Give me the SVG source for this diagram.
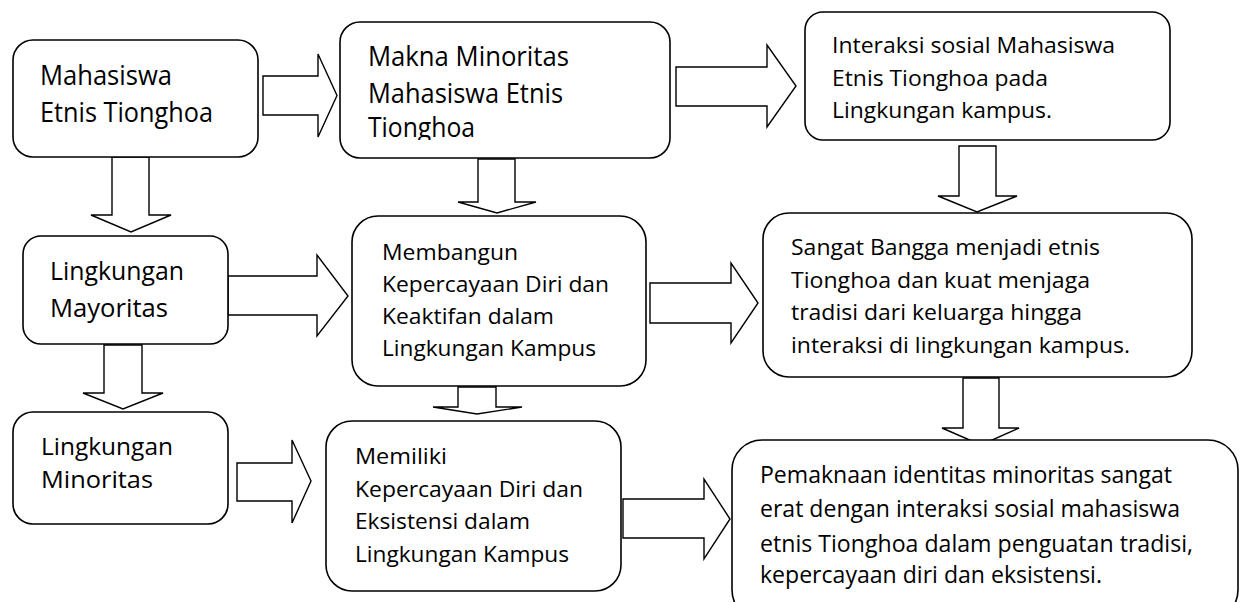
<svg xmlns="http://www.w3.org/2000/svg" width="1241" height="602" viewBox="0 0 1241 602">
<style>
.box{fill:#fff;stroke:#000;stroke-width:1.6}
.arr{fill:#fff;stroke:#000;stroke-width:1.4;stroke-linejoin:miter}
text{font-family:"Open Sans","Noto Sans","Liberation Sans",sans-serif;fill:#000}
.f25{font-size:27px}.f24{font-size:26px}.f23{font-size:24px}.f21{font-size:22.5px}.f22{font-size:24px}
</style>
<defs>
<clipPath id="clip2"><rect x="340" y="22" width="330" height="118"/></clipPath>
</defs>
<rect width="1241" height="602" fill="#fff"/>
<g id="connectors">
<polygon class="arr" points="263,76 318,76 318,54 337,95.5 318,137 318,115 263,115"/>
<polygon class="arr" points="676,67 767,67 767,45 796,86 767,127 767,106 676,106"/>
<polygon class="arr" points="112,157 149,157 149,215 171,215 131,232 91,215 112,215"/>
<polygon class="arr" points="478,159 515,159 515,202 536,202 497,213 458,202 478,202"/>
<polygon class="arr" points="959,146 996,146 996,196 1017,196 977,212 938,196 959,196"/>
<polygon class="arr" points="228,276 317,276 317,255 348,296 317,336 317,315 228,315"/>
<polygon class="arr" points="650,283 731,283 731,263 758,303 731,343 731,323 650,323"/>
<polygon class="arr" points="104,345 142,345 142,393 163,393 123,409 83,393 104,393"/>
<polygon class="arr" points="458,387 496,387 496,407 522,407 477,414 433,407 458,407"/>
<polygon class="arr" points="963,378 999,378 999,428 1019,428 981,445 942,428 963,428"/>
<polygon class="arr" points="237,463 292,463 292,440 311,481 292,523 292,501 237,501"/>
<polygon class="arr" points="623,499 704,499 704,479 730,519 704,559 704,538 623,538"/>
</g>
<g id="n1">
<rect class="box" x="13" y="40" width="245" height="117" rx="20"/>
<text class="f25" x="40" y="85" textLength="132" lengthAdjust="spacingAndGlyphs">Mahasiswa</text>
<text class="f25" x="40" y="122" textLength="173" lengthAdjust="spacingAndGlyphs">Etnis Tionghoa</text>
</g>
<g id="n2">
<rect class="box" x="340" y="22" width="330" height="136" rx="20"/>
<g clip-path="url(#clip2)">
<text class="f25" x="368" y="66" textLength="201" lengthAdjust="spacingAndGlyphs">Makna Minoritas</text>
<text class="f25" x="368" y="103" textLength="195" lengthAdjust="spacingAndGlyphs">Mahasiswa Etnis</text>
<text class="f25" x="368" y="137" textLength="107" lengthAdjust="spacingAndGlyphs">Tionghoa</text>
</g>
</g>
<g id="n3">
<rect class="box" x="805" y="12" width="365" height="128" rx="18"/>
<text class="f21" x="832" y="53" textLength="283" lengthAdjust="spacingAndGlyphs">Interaksi sosial Mahasiswa</text>
<text class="f21" x="832" y="86" textLength="216" lengthAdjust="spacingAndGlyphs">Etnis Tionghoa pada</text>
<text class="f21" x="832" y="118" textLength="220" lengthAdjust="spacingAndGlyphs">Lingkungan kampus.</text>
</g>
<g id="n4">
<rect class="box" x="23" y="236" width="205" height="108" rx="18"/>
<text class="f24" x="50" y="280" textLength="134" lengthAdjust="spacingAndGlyphs">Lingkungan</text>
<text class="f24" x="50" y="317" textLength="118" lengthAdjust="spacingAndGlyphs">Mayoritas</text>
</g>
<g id="n5">
<rect class="box" x="352" y="216" width="294" height="170" rx="26"/>
<text class="f21" x="382" y="260" textLength="136" lengthAdjust="spacingAndGlyphs">Membangun</text>
<text class="f21" x="382" y="292" textLength="227" lengthAdjust="spacingAndGlyphs">Kepercayaan Diri dan</text>
<text class="f21" x="382" y="324" textLength="172" lengthAdjust="spacingAndGlyphs">Keaktifan dalam</text>
<text class="f21" x="382" y="356" textLength="214" lengthAdjust="spacingAndGlyphs">Lingkungan Kampus</text>
</g>
<g id="n6">
<rect class="box" x="763" y="213" width="429" height="164" rx="26"/>
<text class="f21" x="791" y="255" textLength="309" lengthAdjust="spacingAndGlyphs">Sangat Bangga menjadi etnis</text>
<text class="f21" x="791" y="288" textLength="299" lengthAdjust="spacingAndGlyphs">Tionghoa dan kuat menjaga</text>
<text class="f21" x="791" y="320" textLength="291" lengthAdjust="spacingAndGlyphs">tradisi dari keluarga hingga</text>
<text class="f21" x="791" y="353" textLength="339" lengthAdjust="spacingAndGlyphs">interaksi di lingkungan kampus.</text>
</g>
<g id="n7">
<rect class="box" x="13" y="412" width="215" height="112" rx="20"/>
<text class="f23" x="41" y="455" textLength="132" lengthAdjust="spacingAndGlyphs">Lingkungan</text>
<text class="f23" x="41" y="488" textLength="112" lengthAdjust="spacingAndGlyphs">Minoritas</text>
</g>
<g id="n8">
<rect class="box" x="326" y="421" width="295" height="170" rx="26"/>
<text class="f21" x="355" y="464" textLength="92" lengthAdjust="spacingAndGlyphs">Memiliki</text>
<text class="f21" x="355" y="497" textLength="228" lengthAdjust="spacingAndGlyphs">Kepercayaan Diri dan</text>
<text class="f21" x="355" y="529" textLength="175" lengthAdjust="spacingAndGlyphs">Eksistensi dalam</text>
<text class="f21" x="355" y="562" textLength="214" lengthAdjust="spacingAndGlyphs">Lingkungan Kampus</text>
</g>
<g id="n9">
<rect class="box" x="732" y="440" width="506" height="180" rx="30"/>
<text class="f22" x="760" y="483" textLength="412" lengthAdjust="spacingAndGlyphs">Pemaknaan identitas minoritas sangat</text>
<text class="f22" x="760" y="517" textLength="420" lengthAdjust="spacingAndGlyphs">erat dengan interaksi sosial mahasiswa</text>
<text class="f22" x="760" y="552" textLength="433" lengthAdjust="spacingAndGlyphs">etnis Tionghoa dalam penguatan tradisi,</text>
<text class="f22" x="760" y="583" textLength="342" lengthAdjust="spacingAndGlyphs">kepercayaan diri dan eksistensi.</text>
</g>
</svg>
